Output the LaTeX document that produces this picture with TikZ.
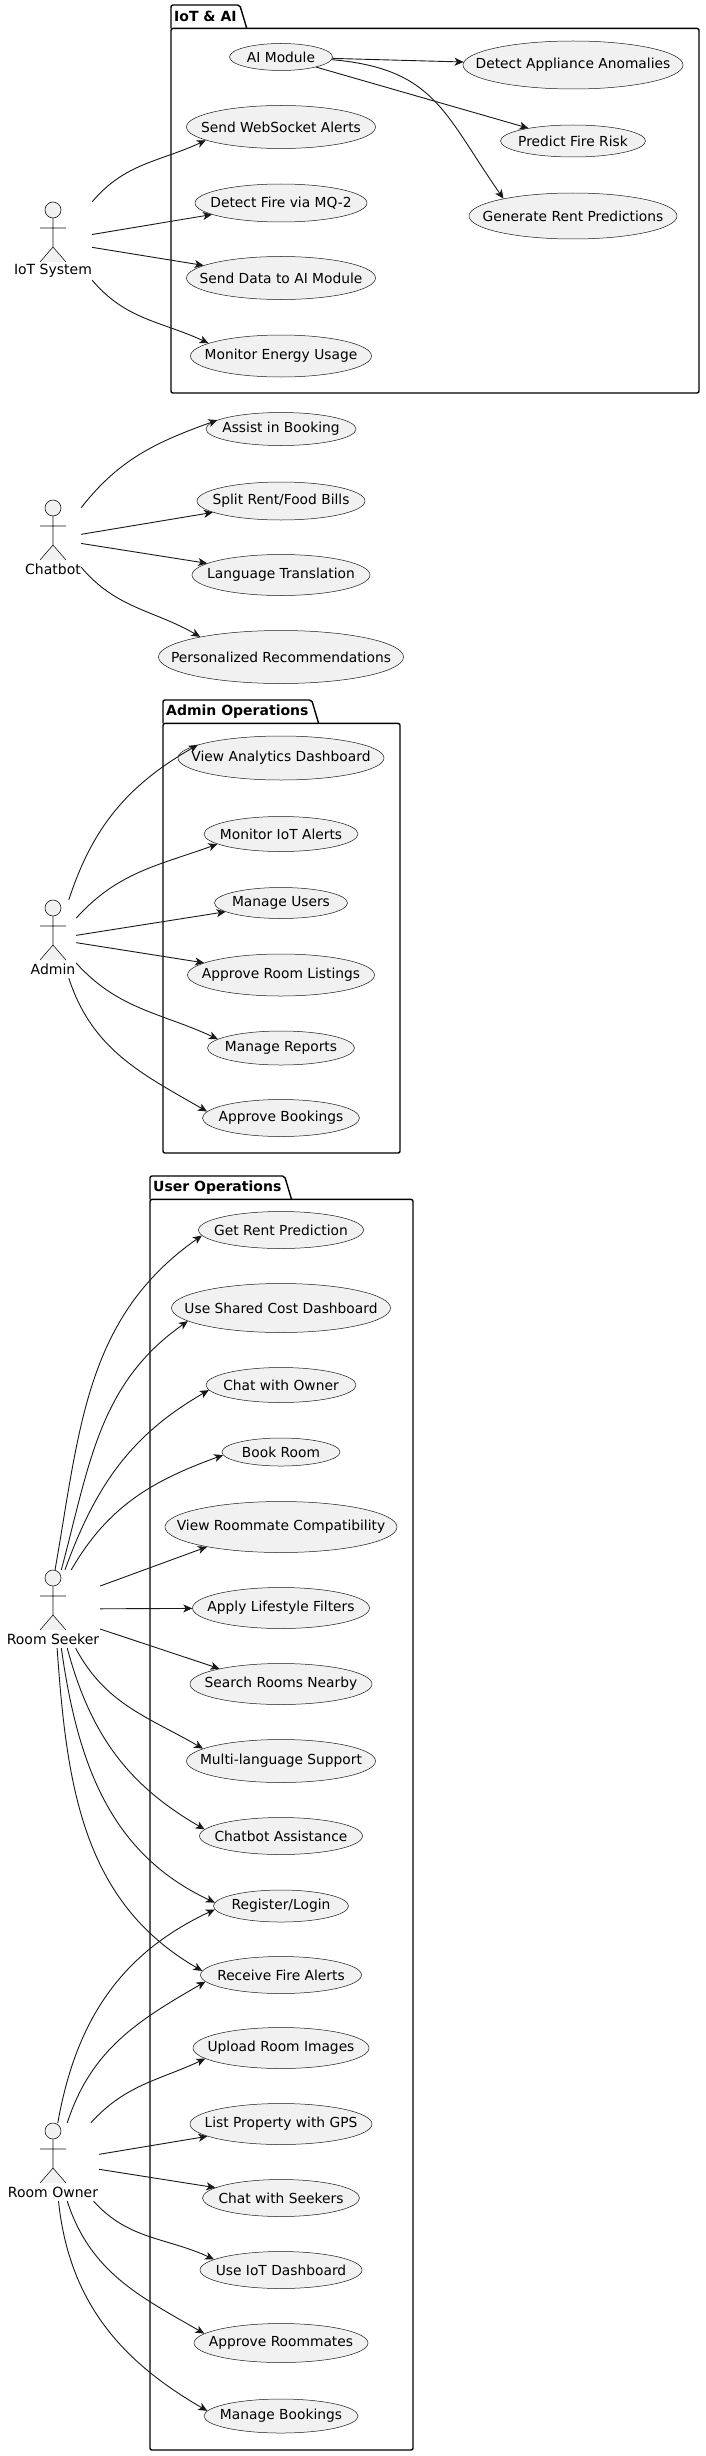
\documentclass[tikz,border=0pt]{standalone}
\usepackage{fontspec}
\setmainfont{DejaVu Sans}
\usetikzlibrary{shapes.geometric,arrows.meta}
\definecolor{ucFill}{HTML}{F1F1F1}
\definecolor{ink}{HTML}{181818}

% text of a use case takes no width, the ellipse size is given
\newcommand{\uclabel}[1]{\makebox[0pt]{#1}}

% stick figure: name, x, head y (downwards), box width, label
\newcommand{\umlactor}[5]{%
  \node[actorbox, minimum width=#4pt] (#1) at (#2,-#3-31) {};
  \draw[actorline] (#2,-#3) circle[radius=8pt];
  \draw[actorline] (#2,-#3-8) -- (#2,-#3-37)
    (#2-13,-#3-18) -- (#2+13,-#3-18)
    (#2-13,-#3-52) -- (#2,-#3-37) -- (#2+13,-#3-52);
  \node[actorlabel] (#1lbl) at (#2,-#3-61) {#5};
}

\tikzset{
  usecase/.style 2 args={ellipse, draw=ink, fill=ucFill, line width=0.5pt,
    inner sep=0pt, minimum width=#1pt, minimum height=#2pt,
    font={\fontsize{13.8}{16}\selectfont}},
  actorbox/.style={draw=none, inner sep=0pt, minimum height=78pt},
  actorline/.style={draw=ink, fill=ucFill, line width=0.6pt},
  actorlabel/.style={inner sep=0pt, font={\fontsize{14}{16}\selectfont}},
  pkgtitle/.style={anchor=north west, inner xsep=3pt, inner ysep=0pt,
    minimum height=23pt, font={\fontsize{14}{16}\selectfont\bfseries}},
  pkgline/.style={draw=black, line width=1.4pt},
  assoc/.style={draw=ink, line width=0.9pt,
    -{Stealth[length=9pt,width=8pt,inset=2.5pt]}},
}

\begin{document}
\begin{tikzpicture}[x=1pt,y=1pt]
\fill[white] (0,0) rectangle (705,-2456);
\useasboundingbox (0,0) rectangle (705,-2456);

% packages
\node[pkgtitle] (iottitle) at (171,-5) {IoT \& AI};
\draw[pkgline, rounded corners=2pt] (iottitle.south west) -- (iottitle.north west)
  -- (iottitle.north east) -- ([xshift=7pt]iottitle.south east);
\draw[pkgline, rounded corners=2pt] (iottitle.south west) rectangle (699,-393);

\node[pkgtitle] (admintitle) at (163,-700) {Admin Operations};
\draw[pkgline, rounded corners=2pt] (admintitle.south west) -- (admintitle.north west)
  -- (admintitle.north east) -- ([xshift=7pt]admintitle.south east);
\draw[pkgline, rounded corners=2pt] (admintitle.south west) rectangle (400,-1153);

\node[pkgtitle] (usertitle) at (150,-1176) {User Operations};
\draw[pkgline, rounded corners=2pt] (usertitle.south west) -- (usertitle.north west)
  -- (usertitle.north east) -- ([xshift=7pt]usertitle.south east);
\draw[pkgline, rounded corners=2pt] (usertitle.south west) rectangle (413,-2450);

% actors
\umlactor{iot}{53}{210}{78}{IoT System}
\umlactor{chatbot}{53}{508}{56}{Chatbot}
\umlactor{admin}{53}{908}{46}{Admin}
\umlactor{seeker}{53}{1578}{94}{Room Seeker}
\umlactor{owner}{53}{2131}{92}{Room Owner}

% IoT & AI
\node[usecase={103}{27}] (ai) at (281,-57) {\uclabel{AI Module}};
\node[usecase={220}{48}] (anom) at (573,-65) {\uclabel{Detect Appliance Anomalies}};
\node[usecase={145}{32}] (risk) at (573,-141) {\uclabel{Predict Fire Risk}};
\node[usecase={208}{46}] (rent) at (573,-216) {\uclabel{Generate Rent Predictions}};
\node[usecase={189}{43}] (ws) at (281,-127) {\uclabel{Send WebSocket Alerts}};
\node[usecase={172}{38}] (mq) at (281,-203) {\uclabel{Detect Fire via MQ-2}};
\node[usecase={189}{43}] (senddata) at (281,-278) {\uclabel{Send Data to AI Module}};
\node[usecase={181}{42}] (energy) at (281,-356) {\uclabel{Monitor Energy Usage}};

% chatbot
\node[usecase={150}{33}] (assist) at (281,-429) {\uclabel{Assist in Booking}};
\node[usecase={168}{38}] (split) at (281,-501) {\uclabel{Split Rent/Food Bills}};
\node[usecase={178}{41}] (lang) at (281,-575) {\uclabel{Language Translation}};
\node[usecase={245}{53}] (recs) at (281,-657) {\uclabel{Personalized Recommendations}};

% admin
\node[usecase={206}{44}] (analytics) at (281,-758) {\uclabel{View Analytics Dashboard}};
\node[usecase={154}{35}] (alerts) at (281,-834) {\uclabel{Monitor IoT Alerts}};
\node[usecase={133}{31}] (users) at (281,-903) {\uclabel{Manage Users}};
\node[usecase={187}{42}] (listings) at (281,-975) {\uclabel{Approve Room Listings}};
\node[usecase={147}{34}] (reports) at (281,-1048) {\uclabel{Manage Reports}};
\node[usecase={157}{37}] (approvebk) at (281,-1118) {\uclabel{Approve Bookings}};

% users
\node[usecase={165}{37}] (getrent) at (281,-1230) {\uclabel{Get Rent Prediction}};
\node[usecase={219}{49}] (shared) at (281,-1308) {\uclabel{Use Shared Cost Dashboard}};
\node[usecase={150}{35}] (chatown) at (281,-1385) {\uclabel{Chat with Owner}};
\node[usecase={118}{28}] (bookroom) at (281,-1452) {\uclabel{Book Room}};
\node[usecase={232}{51}] (compat) at (281,-1527) {\uclabel{View Roommate Compatibility}};
\node[usecase={177}{41}] (lifestyle) at (281,-1608) {\uclabel{Apply Lifestyle Filters}};
\node[usecase={182}{41}] (search) at (281,-1684) {\uclabel{Search Rooms Nearby}};
\node[usecase={189}{43}] (multilang) at (281,-1761) {\uclabel{Multi-language Support}};
\node[usecase={163}{37}] (chatassist) at (281,-1836) {\uclabel{Chatbot Assistance}};
\node[usecase={135}{32}] (register) at (281,-1906) {\uclabel{Register/Login}};
\node[usecase={161}{37}] (firealerts) at (281,-1975) {\uclabel{Receive Fire Alerts}};
\node[usecase={176}{41}] (upload) at (281,-2048) {\uclabel{Upload Room Images}};
\node[usecase={182}{41}] (gps) at (281,-2124) {\uclabel{List Property with GPS}};
\node[usecase={157}{37}] (chatseek) at (281,-2198) {\uclabel{Chat with Seekers}};
\node[usecase={162}{37}] (iotdash) at (281,-2270) {\uclabel{Use IoT Dashboard}};
\node[usecase={174}{39}] (approverm) at (281,-2343) {\uclabel{Approve Roommates}};
\node[usecase={154}{34}] (managebk) at (281,-2416) {\uclabel{Manage Bookings}};

% IoT System links
\draw[assoc] (iot.45) to[out=50,in=205] (ws.190);
\draw[assoc] (iot) -- (mq);
\draw[assoc] (iot) -- (senddata);
\draw[assoc] (iot.-45) to[out=-50,in=155] (energy.170);

% AI Module links
\draw[assoc] (ai) -- (anom);
\draw[assoc] (ai) -- (risk);
\draw[assoc] (ai.-3) to[out=-5,in=125,looseness=1.2] (rent.166);

% Chatbot links
\draw[assoc] (chatbot.48) to[out=52,in=200] (assist.172);
\draw[assoc] (chatbot) -- (split);
\draw[assoc] (chatbot) -- (lang);
\draw[assoc] (chatbot.-45) to[out=-50,in=150] (recs.166);

% Admin links
\draw[assoc] (admin.68) to[out=72,in=210] (analytics.171);
\draw[assoc] (admin.42) to[out=48,in=200] (alerts.189);
\draw[assoc] (admin) -- (users);
\draw[assoc] (admin) -- (listings);
\draw[assoc] (admin.-46) to[out=-48,in=155] (reports.172);
\draw[assoc] (admin.-68) to[out=-72,in=150] (approvebk.175);

% Room Seeker links
\draw[assoc] (seeker.87) to[out=80,in=215] (getrent.184);
\draw[assoc] (seeker.78) to[out=75,in=215] (shared.188);
\draw[assoc] (seeker.73) to[out=70,in=210] (chatown.184);
\draw[assoc] (seeker.65) to[out=60,in=200] (bookroom.183);
\draw[assoc] (seeker.26) -- (compat.195);
\draw[assoc] (seeker) -- (lifestyle);
\draw[assoc] (seeker.-23) -- (search.166);
\draw[assoc] (seeker.-60) to[out=-62,in=150] (multilang.171);
\draw[assoc] (seeker.-70) to[out=-75,in=150] (chatassist.175);
\draw[assoc] (seeker.-78) to[out=-82,in=155] (register.177);
\draw[assoc] (seeker.-84) to[out=-86,in=150] (firealerts.177);

% Room Owner links
\draw[assoc] (owner.83) to[out=80,in=205] (register.183);
\draw[assoc] (owner.70) to[out=72,in=210] (firealerts.185);
\draw[assoc] (owner.46) to[out=48,in=205] (upload.188);
\draw[assoc] (owner) -- (gps);
\draw[assoc] (owner) -- (chatseek);
\draw[assoc] (owner.-44) to[out=-48,in=155] (iotdash.171);
\draw[assoc] (owner.-70) to[out=-72,in=150] (approverm.173);
\draw[assoc] (owner.-82) to[out=-84,in=150] (managebk.176);
\end{tikzpicture}
\end{document}
